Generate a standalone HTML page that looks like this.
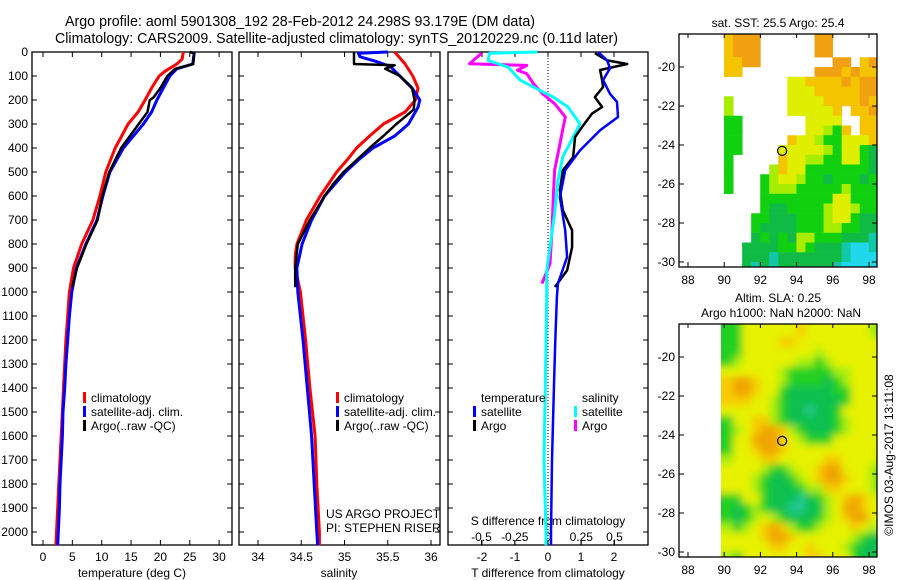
<!DOCTYPE html>
<html><head><meta charset="utf-8"><style>
html,body{margin:0;padding:0;background:#fff;}
svg{display:block;font-family:"Liberation Sans",sans-serif;font-size:12px;}
</style></head><body>
<svg id="c" width="900" height="580" viewBox="0 0 900 580">
<defs>
<clipPath id="cp1"><rect x="679" y="34" width="198" height="233"/></clipPath>
<clipPath id="cp2"><rect x="679" y="324" width="198" height="233"/></clipPath>
<clipPath id="cp3"><rect x="721" y="324" width="156" height="233"/></clipPath>
<filter id="bl" x="-5%" y="-5%" width="110%" height="110%"><feGaussianBlur stdDeviation="4"/></filter>
</defs>
<text x="65" y="26" textLength="470" lengthAdjust="spacingAndGlyphs" style="font-size:14.5px">Argo profile: aoml 5901308_192 28-Feb-2012 24.298S 93.179E (DM data)</text>
<text x="55" y="43" textLength="563" lengthAdjust="spacingAndGlyphs" style="font-size:14.5px">Climatology: CARS2009. Satellite-adjusted climatology: synTS_20120229.nc (0.11d later)</text>
<g id="g"></g>
</svg>
<script>
// ---- depth / profile data ----
const tRedP = [0,30,50,80,100,150,200,250,300,350,400,500,600,700,800,900,1000,1100,1200,1300,1400,1500,1600,1700,1800,1900,2000,2055];
const tRedV = [23.9,23.7,22.8,20.8,19.8,18.5,17.4,16.2,14.5,13.4,12.3,10.7,9.7,8.5,6.6,5.2,4.5,4.2,3.9,3.7,3.5,3.3,3.1,2.9,2.7,2.5,2.3,2.2];
const tBlueP = [0,50,70,100,150,200,250,300,350,400,500,600,700,800,900,1000,1100,1200,1300,1400,1500,1600,1700,1800,1900,2000,2055];
const tBlueV = [25.8,25.5,22.8,21.6,20.5,19.4,18.5,17.1,15.4,13.7,11.4,10.2,9.2,7.3,5.7,4.9,4.5,4.2,3.9,3.7,3.4,3.3,3.1,2.9,2.8,2.6,2.5];
const tArgoP = [0,5,50,70,100,150,190,200,250,300,350,400,500,600,700,800,900,980];
const tArgoV = [25.0,25.7,25.6,22.5,21.2,20.0,18.8,18.2,17.8,16.3,14.8,13.3,11.3,10.1,9.3,7.4,5.8,5.0];
const sRedP = [0,50,100,150,200,250,300,350,400,450,500,600,700,800,850,900,1000,1200,1400,1500,1600,1800,2000,2055];
const sRedV = [35.58,35.70,35.79,35.85,35.82,35.70,35.45,35.29,35.14,35.03,34.91,34.72,34.56,34.45,34.43,34.43,34.49,34.55,34.60,34.63,34.66,34.68,34.71,34.71];
const sBlueP = [0,5,20,40,60,100,150,200,230,300,350,400,450,500,600,700,800,900,1000,1200,1400,1600,1800,2000,2055];
const sBlueV = [35.50,35.16,35.18,35.37,35.53,35.64,35.78,35.87,35.85,35.74,35.58,35.33,35.16,35.01,34.77,34.62,34.51,34.45,34.46,34.52,34.57,34.62,34.65,34.68,34.69];
const sArgoP = [0,50,55,70,100,150,200,240,270,300,350,400,450,500,550,600,700,800,900,980];
const sArgoV = [35.11,35.11,35.58,35.47,35.64,35.78,35.81,35.80,35.70,35.60,35.45,35.29,35.14,34.99,34.87,34.77,34.60,34.46,34.43,34.43];
const dtArgoP = [5,35,50,75,117,146,188,229,257,313,354,438,493,576,660,743,813,910,979];
const dtArgoV = [1.42,1.79,2.4,1.58,1.64,1.67,1.42,1.64,1.33,1.03,0.82,0.76,0.45,0.36,0.45,0.73,0.73,0.58,0.21];
const dtSatP = [0,35,68,117,174,208,271,326,410,493,604,743,854,965,1021,1200,1400,1700,2000,2055];
const dtSatV = [1.52,1.79,1.88,1.67,1.88,2.09,2.12,1.58,0.97,0.52,0.36,0.52,0.58,0.3,0.27,0.22,0.18,0.12,0.09,0.09];
const dsSatP = [0,5,35,63,117,160,188,229,299,354,438,535,674,813,910,1021,1400,1700,2000,2055];
const dsSatV = [-0.08,-0.44,-0.45,-0.30,-0.21,-0.06,0.04,0.15,0.24,0.19,0.11,0.075,0.05,0.015,-0.01,-0.01,-0.02,-0.03,-0.015,-0.015];
const dsArgoP = [5,49,56,76,90,132,174,215,271,326,382,493,604,743,882,965];
const dsArgoV = [-0.5,-0.59,-0.16,-0.23,-0.16,-0.11,-0.04,0.05,0.13,0.11,0.09,0.05,0.04,0.03,0.015,-0.045];
const depthTicks = [0,100,200,300,400,500,600,700,800,900,1000,1100,1200,1300,1400,1500,1600,1700,1800,1900,2000];
const tTicks = [0,5,10,15,20,25,30];
const sTicks = [34,34.5,35,35.5,36];
const dTTicks = [-2,-1,0,1,2];
const dSTicks = [-0.5,-0.25,0,0.25,0.5];
const dSTickLabels = ["-0.5","-0.25","0","0.25","0.5"];
const lonTicks = [88,90,92,94,96,98];
const latTicks = [-20,-22,-24,-26,-28,-30];
const argoLon = 93.2, argoLat = -24.3;
// maps: 0.5deg cells, col lon=90+0.5c, row lat=-18.5-0.5r (cell top)
const sstRows = [
"yooo......oo.....g","yooo......oo......","yyoo........oo.yo.","yy........oooyoyyy",
".......YYyyyyoyooo",".......YYYyyyyyooo","l......YYYYyyyyoyo","l......YYYYYy.yyoo",
"gg.......YYYY..yyy","gg.......YYlgy.yyy","gg.....yYYlggYYYyy","gg....YYYYYlgYYgGg",
"g.....yYYllggYYgGg","g....lyYYgggggggGg","g...glYYlggGgggGgG","g...glllggggglgggG",
"....ggggggggYYgggG","....gGGgggglYYlggG","...ggGGGggglYYgGGc","...gGGGGgggllggGGc",
"...GgGgGllgggGGGcc","..GGGGgglgGGGcCCcc","..GGGcGGGGGGGcCCCc","..GcGcGGGGGGcCCCCc","..GcGcGGGGGGcCCCCc"];
const slaRows = [
"ggYYYYYYyYYYYYYYlg","ggYYYYyyYYYYYYYYYY","ggYYYYYYYYlYYYYYYY","glYYYYYYllglYYYYYY",
"YYYYYYlgggggllYYYY","yooyYYlggggGglYYYY","yooyYYgGGGGGggYYYY","yyyYYlgGGGGGGgYYYY",
"YYYYYlgGGcGGgYYYYY","gYYyylgGGGGGglYYYY","glYyooylgGGGglYYYY","gYYoooyYlgggYYYYYY",
"gYYyooyYYYYYYYYYYl","lYYYyyYYYYYyyYYYYl","YYYYlgglYYyooYYYlg","YYYlgGGglYyooyYYlg",
"YYYlgGGGgllyyYYYlg","ggYYgGGGcGglYyoyYl","gGglgGGccGGlYooyYY","gGglYlgGGGglYyooYY",
"lglYyoylgglYYYyYlY","YYYYyooyYYYYYYlgGG","YYYYYyyYYyYYYlgGGG","lgYYYYYYYyyYYYgGGG","lgYYYYYYYyyYYYgGGG"];
const sstColors = {o:"#f0a010",y:"#f5c400",Y:"#e0ee00",l:"#a8ec00",g:"#10d010",G:"#10bb45",c:"#10c8a8",C:"#20d8ec"};
const slaColors = {o:"#f0a400",y:"#f6cc00",Y:"#e6f200",l:"#a8ee10",g:"#20d020",G:"#10c050",c:"#20c890"};

const NS="http://www.w3.org/2000/svg";
const G=document.getElementById('g');
function mk(tag,attrs,parent){const e=document.createElementNS(NS,tag);for(const k in attrs)e.setAttribute(k,attrs[k]);(parent||G).appendChild(e);return e;}
const Y0=52,YB=545;
function dy(p){return Y0+p*0.24;}
function tx(t){return 43+t*5.87;}
function sx(s){return 258+(s-34)*86.5;}
function dx(d){return 548+d*33;}
function dsx(s){return 548+s*133;}
function lonX(l){return 688+(l-88)*18.1;}
function latY1(l){return 67+(-20-l)*19.5;}
function latY2(l){return 357+(-20-l)*19.5;}

const panels=[{x0:32,x1:232},{x0:239,x1:440},{x0:448,x1:648}];
panels.forEach((p,i)=>{
 const r=mk('rect',{x:p.x0,y:Y0,width:p.x1-p.x0,height:YB-Y0,fill:'none',stroke:'#000','stroke-width':1.3});
 
 
 depthTicks.forEach(d=>{
  mk('line',{x1:p.x0,x2:p.x0+5,y1:dy(d),y2:dy(d),stroke:'#000'});
  mk('line',{x1:p.x1,x2:p.x1-5,y1:dy(d),y2:dy(d),stroke:'#000'});
 });
});
depthTicks.forEach(d=>{
 const t=mk('text',{x:28,y:dy(d)+4,'text-anchor':'end'});t.textContent=d;
 
 
});
function xTicks(vals,fn,labels,yl,top){
 vals.forEach((v,i)=>{
  mk('line',{x1:fn(v),x2:fn(v),y1:YB,y2:YB-5,stroke:'#000'});
  if(top) mk('line',{x1:fn(v),x2:fn(v),y1:Y0,y2:Y0+5,stroke:'#000'});
  const t=mk('text',{x:fn(v),y:yl,'text-anchor':'middle'});t.textContent=labels?labels[i]:v;
  
  
 });
}
xTicks(tTicks,tx,null,561,true);
xTicks(sTicks,sx,null,561,true);
xTicks(dTTicks,dx,null,561,true);
xTicks(dSTicks,dsx,dSTickLabels,541,false);
function lbl(x,y,s,name,anchor){const t=mk('text',{x:x,y:y,'text-anchor':anchor||'middle'});t.textContent=s;return t;}
lbl(132,577,'temperature (deg C)','x-axis-title-temperature');
lbl(339,577,'salinity','x-axis-title-salinity');
lbl(548,577,'T difference from climatology','x-axis-title-t-diff');
lbl(548,525,'S difference from climatology','x-axis-title-s-diff');
mk('line',{x1:548,x2:548,y1:Y0,y2:YB,stroke:'#000','stroke-dasharray':'1,2'});

function line(P,V,fx,fy,col,w,name){
 const pts=P.map((p,i)=>fx(V[i]).toFixed(1)+','+fy(p).toFixed(1)).join(' ');
 const l=mk('polyline',{points:pts,fill:'none',stroke:col,'stroke-width':w,'stroke-linejoin':'round'});
 
 
}
line(tRedP,tRedV,tx,dy,'#f00',3,'temp-climatology-line');
line(tBlueP,tBlueV,tx,dy,'#00f',3,'temp-satellite-line');
line(tArgoP,tArgoV,tx,dy,'#000',2.5,'temp-argo-line');
line(sRedP,sRedV,sx,dy,'#f00',3,'sal-climatology-line');
line(sBlueP,sBlueV,sx,dy,'#00f',3,'sal-satellite-line');
line(sArgoP,sArgoV,sx,dy,'#000',2.5,'sal-argo-line');
line(dsArgoP,dsArgoV,dsx,dy,'#f0f',3,'sdiff-argo-line');
line(dsSatP,dsSatV,dsx,dy,'#0ff',3,'sdiff-satellite-line');
line(dtArgoP,dtArgoV,dx,dy,'#000',2.5,'tdiff-argo-line');
line(dtSatP,dtSatV,dx,dy,'#00f',2.5,'tdiff-satellite-line');

function legItem(x,y,col,s,name){
 mk('rect',{x:x,y:y-10,width:3,height:11,fill:col});
 lbl(x+8,y,s,name,'start');
}
[[83,'climatology','#f00'],[83,'satellite-adj. clim.','#00f'],[83,"Argo(..raw -QC)",'#000']].forEach((a,i)=>legItem(a[0],402+i*14,a[2],a[1],'legend-entry-temp'));
[[336,'climatology','#f00'],[336,'satellite-adj. clim.','#00f'],[336,"Argo(..raw -QC)",'#000']].forEach((a,i)=>legItem(a[0],402+i*14,a[2],a[1],'legend-entry-sal'));
lbl(481,402,'temperature','legend-heading-temperature','start');
lbl(582,402,'salinity','legend-heading-salinity','start');
legItem(473,416,'#00f','satellite','legend-entry-tdiff-sat');
legItem(473,430,'#000','Argo','legend-entry-tdiff-argo');
legItem(574,416,'#0ff','satellite','legend-entry-sdiff-sat');
legItem(574,430,'#f0f','Argo','legend-entry-sdiff-argo');
lbl(326,518,'US ARGO PROJECT','project-label','start');
lbl(326,532,'PI: STEPHEN RISER','pi-label','start');

// maps
function drawMap(rows,colors,latY,clip,y0,blur,name){
 const g=mk('g',{'clip-path':'url(#'+clip+')'});
 
 
 const inner=blur?mk('g',{filter:'url(#bl)'},g):g;
 rows.forEach((row,r)=>{
  for(let c=0;c<row.length;c++){
   const ch=row[c]; if(!colors[ch]) continue;
   const lon=90+0.5*c, lat=-18.5-0.5*r;
   const e=mk('rect',{x:lonX(lon)-(blur&&c==0?20:0.2),y:latY(lat)-(r==0?20:0),width:9.5+(blur&&c==0?20:0),height:9.95+(r==0?20:0),fill:colors[ch]},inner);
   
   
  }
 });
 mk('rect',{x:679,y:y0,width:198,height:233,fill:'none',stroke:'#000','stroke-width':1.3});
 lonTicks.forEach(l=>{
  mk('line',{x1:lonX(l),x2:lonX(l),y1:y0+233,y2:y0+228,stroke:'#000'});
  mk('line',{x1:lonX(l),x2:lonX(l),y1:y0,y2:y0+4,stroke:'#000'});
  lbl(lonX(l),y0+250,String(l),'map-lon-tick');
 });
 latTicks.forEach(l=>{
  mk('line',{x1:679,x2:684,y1:latY(l),y2:latY(l),stroke:'#000'});
  mk('line',{x1:877,x2:872,y1:latY(l),y2:latY(l),stroke:'#000'});
  lbl(675,latY(l)+4,String(l),'map-lat-tick','end');
 });
 const c=mk('circle',{cx:lonX(argoLon),cy:latY(argoLat),r:4.5,fill:'none',stroke:'#000','stroke-width':1.2});
 
 
}
drawMap(sstRows,sstColors,latY1,'cp1',34,false,'sst-map');
drawMap(slaRows,slaColors,latY2,'cp3',324,true,'sla-map');
lbl(778,27,'sat. SST: 25.5 Argo: 25.4','sst-map-title');
lbl(778,302,'Altim. SLA: 0.25','sla-map-title');
lbl(781,317,'Argo h1000: NaN h2000: NaN','sla-map-subtitle');
const ts=lbl(0,0,'©IMOS 03-Aug-2017 13:11:08','timestamp-label');
ts.setAttribute('transform','translate(893,455) rotate(-90)');
</script>
</body></html>
